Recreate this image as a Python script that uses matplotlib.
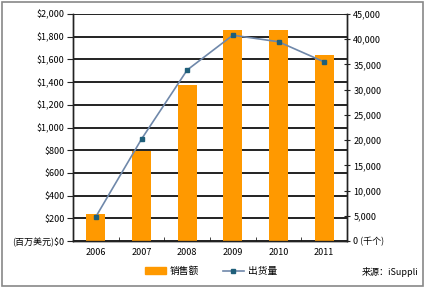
import matplotlib
matplotlib.use("Agg")
import matplotlib.pyplot as plt
from matplotlib.patches import Rectangle
from matplotlib.lines import Line2D

plt.rcParams['font.family'] = ['Noto Sans CJK SC', 'DejaVu Sans']

years = ["2006", "2007", "2008", "2009", "2010", "2011"]
sales = [238, 793, 1374, 1859, 1859, 1639]          # 百万美元
shipments = [4800, 20200, 33900, 40800, 39500, 35500]  # 千个
left_ticks = [0, 200, 400, 600, 800, 1000, 1200, 1400, 1600, 1800, 2000]
right_ticks = [0, 5000, 10000, 15000, 20000, 25000, 30000, 35000, 40000, 45000]

W, H = 425, 288
fig = plt.figure(figsize=(W / 100, H / 100), dpi=100)
ax = fig.add_axes([73 / W, 1 - 241 / H, (347 - 73) / W, (241 - 14) / H])
ax2 = ax.twinx()

x = list(range(len(years)))
ax.bar(x, sales, width=0.42, color="#FF9900", zorder=3)
ax.set_xlim(-0.5, len(years) - 0.5)
ax.set_ylim(0, 2000)
ax.set_yticks(left_ticks)
ax.set_yticklabels(["(百万美元)$0" if v == 0 else "${:,}".format(v) for v in left_ticks], fontsize=6.5)
ax.yaxis.grid(True, color="#111111", linewidth=1.3, zorder=0)
ax.set_axisbelow(True)
ax.set_xticks(x)
ax.set_xticklabels(years, fontsize=6.5)
ax.tick_params(axis='x', length=0, pad=5)
ax.set_xticks([i + 0.5 for i in x[:-1]], minor=True)
ax.tick_params(axis='x', which='minor', direction='in', length=3, color="#222222")
ax.tick_params(axis='y', direction='out', length=4, color="#222222", pad=2)

ax2.plot(x, shipments, color="#6f88aa", linewidth=1.2, marker='s', markersize=3.5,
         markerfacecolor="#1f5f7a", markeredgecolor="#1f5f7a", zorder=4)
ax2.set_ylim(0, 45000)
ax2.set_yticks(right_ticks)
ax2.set_yticklabels(["0 (千个)" if v == 0 else "{:,}".format(v) for v in right_ticks], fontsize=6.5)
ax2.tick_params(axis='y', direction='inout', length=5, color="#222222", pad=2)

for a in (ax, ax2):
    a.spines['top'].set_visible(False)
    for s in ('left', 'right', 'bottom'):
        a.spines[s].set_color("#222222")
        a.spines[s].set_linewidth(1.0)

# legend
handles = [Rectangle((0, 0), 1, 1, color="#FF9900"),
           Line2D([0], [0], color="#6f88aa", linewidth=1.2, marker='s', markersize=3,
                  markerfacecolor="#1f5f7a", markeredgecolor="#1f5f7a")]
fig.legend(handles, ["销售额", "出货量"], loc='center', bbox_to_anchor=(211 / W, 1 - 271 / H),
           ncol=2, frameon=False, fontsize=7, handlelength=2.2, handleheight=0.7,
           handletextpad=0.4, columnspacing=2.4)
fig.text(418 / W, 1 - 272 / H, "来源：iSuppli", ha='right', va='center', fontsize=6.5)

# outer frame
fig.patches.append(Rectangle((2 / W, 2 / H), (W - 4) / W, (H - 4) / H, transform=fig.transFigure,
                             fill=False, edgecolor="#888888", linewidth=1.2))

fig.savefig("out.png", dpi=100)
